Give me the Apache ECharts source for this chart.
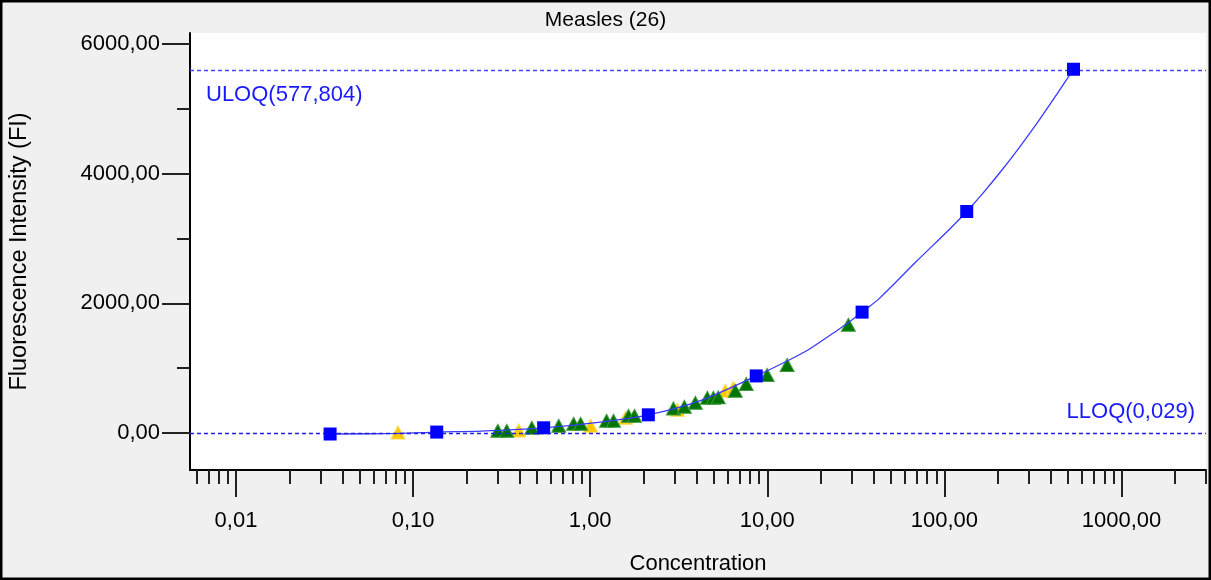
<!DOCTYPE html>
<html>
<head>
<meta charset="utf-8">
<title>Measles (26)</title>
<script src="https://cdn.jsdelivr.net/npm/echarts@6/dist/echarts.min.js"></script>
<style>
    html, body { margin: 0; padding: 0; background: #f0f0f0; }
    #chart { width: 1211px; height: 580px; }
</style>
</head>
<body>
<div id="chart"></div>
<script>
// standards (blue squares)
var stdConc = [0.034, 0.136, 0.546, 2.13, 8.66, 34.3, 133.7, 535.8];
var stdFI = [-15, 15, 81, 281, 881, 1865, 3417, 5611];

// fitted curve, points
var curveConc = [0.034, 0.082, 0.136, 0.241, 0.546, 1.144, 2.13, 4.19, 8.66, 12.94, 16.78, 19.86, 23.6, 28.5, 34.3, 43.26, 69.62, 107.3, 133.7, 165.2, 209.7, 265.9, 337.3, 428.1, 535.8];
var curveFI = [-15, -6, 15, 31, 81, 169, 281, 501, 881, 1111, 1273, 1404, 1542, 1696, 1865, 2085, 2649, 3148, 3417, 3700, 4045, 4411, 4800, 5213, 5611];

// samples (green triangles)
var greenConc = [0.301, 0.338, 0.468, 0.664, 0.806, 0.883, 1.237, 1.354, 1.645, 1.779, 2.951, 3.402, 3.925, 4.585, 4.958, 5.289, 6.595, 7.605, 9.987, 12.94, 28.7];
var greenFI = [35, 35, 81, 112, 143, 143, 189, 189, 266, 266, 380, 405, 466, 543, 543, 550, 651, 758, 896, 1050, 1670];

// samples (yellow triangles)
var yellowConc = [0.0822, 0.395, 1.005, 1.582, 3.108, 5.79, 6.43];
var yellowFI = [9, 40, 112, 235, 358, 651, 696];

// limits of quantification
var uloqFI = 5600;
var lloqFI = 0;
var uloqText = 'ULOQ(577,804)';
var lloqText = 'LLOQ(0,029)';

// axis ticks
var xMajorTicks = [0.01, 0.1, 1, 10, 100, 1000];
var yMajorTicks = [0, 2000, 4000, 6000];
var yMinorTicks = [1000, 3000, 5000];
var xMinorTicks = [];
[0.001, 0.01, 0.1, 1, 10, 100, 1000].forEach(function (d) {
    for (var k = 2; k <= 9; k++) {
        xMinorTicks.push(+(d * k).toPrecision(3));
    }
});

var FONT = '"Liberation Sans", Arial, sans-serif';

function pairs(xs, ys) {
    return xs.map(function (x, i) { return [x, ys[i]]; });
}
function fmt(v) {
    return v.toFixed(2).replace('.', ',');
}

var chart = echarts.init(document.getElementById('chart'));

var option = {
    animation: false,
    backgroundColor: '#f0f0f0',
    title: {
        text: 'Measles (26)',
        left: 'center',
        top: 5,
        textStyle: { fontFamily: FONT, fontSize: 21, fontWeight: 'normal', color: '#000' }
    },
    grid: {
        left: 189, right: 5, top: 33, bottom: 109,
        show: true,
        backgroundColor: '#ffffff',
        borderWidth: 0
    },
    xAxis: [{
        type: 'log',
        logBase: 10,
        min: 0.0055,
        max: 3000,
        name: 'Concentration',
        nameLocation: 'middle',
        nameGap: 83,
        nameTextStyle: { fontFamily: FONT, fontSize: 22, color: '#000' },
        axisLine: { onZero: false, lineStyle: { color: '#000', width: 2 } },
        axisTick: { customValues: xMajorTicks, length: 27, lineStyle: { color: '#222', width: 2 } },
        axisLabel: {
            customValues: xMajorTicks,
            margin: 40,
            fontFamily: FONT, fontSize: 22, color: '#000',
            formatter: function (v) { return fmt(v); }
        },
        splitLine: { show: false },
        minorTick: { show: false }
    }, {
        type: 'log',
        logBase: 10,
        min: 0.0055,
        max: 3000,
        position: 'bottom',
        axisLine: { show: false, onZero: false },
        axisTick: { customValues: xMinorTicks, length: 14, lineStyle: { color: '#222', width: 2 } },
        axisLabel: { show: false },
        splitLine: { show: false }
    }],
    yAxis: [{
        type: 'value',
        min: -570,
        max: 6170,
        name: 'Fluorescence Intensity (FI)',
        nameLocation: 'middle',
        nameGap: 158,
        nameTextStyle: { fontFamily: FONT, fontSize: 23.5, color: '#000' },
        axisLine: { show: true, onZero: false, lineStyle: { color: '#000', width: 2 } },
        axisTick: { show: true, customValues: yMajorTicks, length: 28, lineStyle: { color: '#222', width: 2 } },
        axisLabel: {
            customValues: yMajorTicks,
            margin: 30,
            fontFamily: FONT, fontSize: 22, color: '#000',
            formatter: function (v) { return fmt(v); }
        },
        splitLine: { show: false }
    }, {
        type: 'value',
        min: -570,
        max: 6170,
        position: 'left',
        axisLine: { show: false, onZero: false },
        axisTick: { show: true, customValues: yMinorTicks, length: 13, lineStyle: { color: '#222', width: 2 } },
        axisLabel: { show: false },
        splitLine: { show: false }
    }],
    series: [{
        name: 'yellow',
        type: 'scatter',
        z: 2,
        symbol: 'triangle',
        symbolSize: [14, 13],
        itemStyle: { color: '#ffc800', borderColor: '#ffdd55', borderWidth: 1, opacity: 1 },
        data: pairs(yellowConc, yellowFI)
    }, {
        name: 'green',
        type: 'scatter',
        z: 3,
        symbol: 'triangle',
        symbolSize: [14, 13],
        itemStyle: { color: '#007400', borderColor: '#3f9a3f', borderWidth: 1, opacity: 1 },
        data: pairs(greenConc, greenFI)
    }, {
        name: 'curve',
        type: 'line',
        z: 4,
        smooth: 0.3,
        showSymbol: false,
        lineStyle: { color: '#3a3aff', width: 1.3 },
        data: pairs(curveConc, curveFI),
        markLine: {
            silent: true,
            symbol: 'none',
            animation: false,
            data: [{
                yAxis: uloqFI,
                lineStyle: { color: '#4444ff', type: [4, 3], width: 1.3 },
                label: {
                    formatter: uloqText,
                    position: 'insideStartBottom',
                    distance: [16, 14],
                    fontFamily: FONT, fontSize: 22, color: '#1a1aff'
                }
            }, {
                yAxis: lloqFI,
                lineStyle: { color: '#2222dd', type: [4, 3], width: 1.3 },
                label: {
                    formatter: lloqText,
                    position: 'insideEndTop',
                    distance: [11, 10],
                    fontFamily: FONT, fontSize: 22, color: '#1a1aff'
                }
            }]
        }
    }, {
        name: 'standards',
        type: 'scatter',
        z: 5,
        symbol: 'rect',
        symbolSize: 13,
        itemStyle: { color: '#0000ff', opacity: 1 },
        data: pairs(stdConc, stdFI)
    }],
    graphic: [{
        type: 'rect',
        z: 100,
        silent: true,
        shape: { x: 1, y: 1, width: 1209, height: 578 },
        style: { fill: null, stroke: '#000', lineWidth: 3 }
    }]
};

chart.setOption(option);
</script>
</body>
</html>
